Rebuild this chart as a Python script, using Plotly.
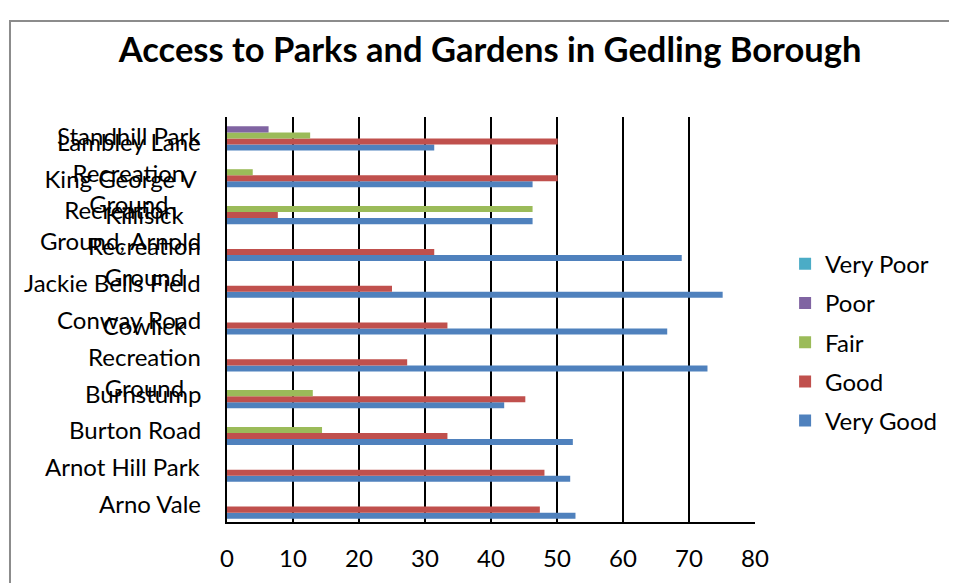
import plotly.graph_objects as go

# Categories bottom-to-top (as drawn on the y axis)
categories = [
    "Arno Vale", "Arnot Hill Park", "Burton Road", "Burnstump",
    "Cowlick Recreation Ground", "Conway Road", "Jackie Bells Field",
    "Killisick Recreation Ground", "King George V Recreation Ground, Arnold",
    "Lambley Lane Recreation Ground", "Standhill Park",
]
category_labels = [
    "Arno Vale", "Arnot Hill Park", "Burton Road", "Burnstump",
    "Cowlick<br>Recreation<br>Ground", "Conway Road", "Jackie Bells Field",
    "Killisick<br>Recreation<br>Ground", "King George V<br>Recreation<br>Ground, Arnold",
    "Lambley Lane<br>Recreation<br>Ground", "Standhill Park",
]

very_good = [52.8, 52.0, 52.4, 42.0, 72.8, 66.7, 75.1, 68.9, 46.3, 46.3, 31.4]
good      = [47.4, 48.1, 33.4, 45.2, 27.3, 33.4, 25.0, 31.4, 7.7, 50.1, 50.1]
fair      = [0, 0, 14.4, 13.0, 0, 0, 0, 0, 46.3, 3.9, 12.6]
poor      = [0, 0, 0, 0, 0, 0, 0, 0, 0, 0, 6.3]
very_poor = [0, 0, 0, 0, 0, 0, 0, 0, 0, 0, 0]

series_names = ["Very Good", "Good", "Fair", "Poor", "Very Poor"]
series_values = [very_good, good, fair, poor, very_poor]
series_colors = ["#4F81BD", "#C0504D", "#9BBB59", "#8064A2", "#4BACC6"]
legend_ranks = [5, 4, 3, 2, 1]

x_ticks = [0, 10, 20, 30, 40, 50, 60, 70, 80]

FONT = "Lato, 'Open Sans', sans-serif"

fig = go.Figure()
for name, vals, col, rank in zip(series_names, series_values, series_colors, legend_ranks):
    fig.add_trace(go.Bar(
        y=categories, x=vals, name=name, orientation="h",
        marker=dict(color=col, line=dict(width=0)),
        legendgroup=name, legendrank=rank,
    ))

annotations = []
for cat, lab in zip(categories, category_labels):
    annotations.append(dict(
        xref="paper", yref="y", x=-0.045, y=cat, text=lab,
        xanchor="right", yanchor="middle", align="center", showarrow=False,
        font=dict(family=FONT, size=24, color="black"),
    ))

fig.update_layout(
    width=949, height=575,
    margin=dict(l=219, r=202, t=109, b=61),
    paper_bgcolor="white", plot_bgcolor="white",
    barmode="group", bargap=0.18, bargroupgap=0,
    title=dict(
        text="<b>Access to Parks and Gardens in Gedling Borough</b>",
        x=0.508, xanchor="center", y=0.927, yanchor="middle",
        font=dict(family=FONT, size=34.5, color="black"),
    ),
    legend=dict(
        x=1.057, xanchor="left", y=0.444, yanchor="middle",
        traceorder="grouped", tracegroupgap=5,
        font=dict(family=FONT, size=24, color="black"),
        bgcolor="rgba(0,0,0,0)",
    ),
    xaxis=dict(
        range=[0, 80], tickvals=x_ticks, ticks="",
        showgrid=True, gridcolor="black", gridwidth=2,
        zeroline=False, showline=True, linecolor="black", linewidth=2,
        tickfont=dict(family=FONT, size=24, color="black"),
        ticklabelstandoff=14,
    ),
    yaxis=dict(
        showticklabels=False, ticks="", showgrid=False, zeroline=False,
        showline=True, linecolor="black", linewidth=2,
    ),
    annotations=annotations,
    shapes=[dict(
        type="rect", xref="paper", yref="paper",
        x0=-0.411, x1=1.392, y0=-0.168, y1=1.237,
        line=dict(color="#8c8c8c", width=2), fillcolor="rgba(0,0,0,0)",
        layer="below",
    )],
)

fig.write_html("out.html")
